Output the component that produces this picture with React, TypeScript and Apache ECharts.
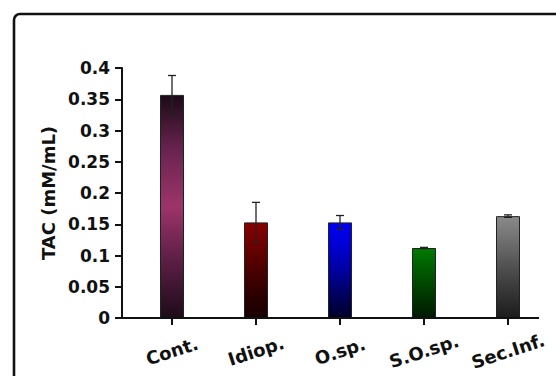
import React, { useEffect, useRef } from "react";
import * as echarts from "echarts";

const categories = ["Cont.", "Idiop.", "O.sp.", "S.O.sp.", "Sec.Inf."];
const means = [0.357, 0.153, 0.153, 0.112, 0.163];
const errors = [0.031, 0.032, 0.011, 0.001, 0.002];
const yTicks = { min: 0, max: 0.4, interval: 0.05 };
const barGradients = [
  ["#1c0a17", "#6a2450", "#9c3469", "#5a1e44", "#1e0b19"],
  ["#8a0000", "#6a0000", "#4a0000", "#2e0000", "#180000"],
  ["#0000f5", "#0000d0", "#0000a0", "#000060", "#00002a"],
  ["#007a00", "#006000", "#004800", "#003000", "#001a00"],
  ["#8a8a8a", "#6e6e6e", "#505050", "#353535", "#1c1c1c"],
];

const FONT = "DejaVu Sans";

export default function App() {
  const ref = useRef<HTMLDivElement>(null);
  useEffect(() => {
    if (!ref.current) return;
    const chart = echarts.init(ref.current, null, { renderer: "svg" });
    const grad = (cols: string[]) =>
      new echarts.graphic.LinearGradient(
        0,
        0,
        0,
        1,
        cols.map((c, i) => ({ offset: i / (cols.length - 1), color: c }))
      );
    chart.setOption({
      animation: false,
      backgroundColor: "#ffffff",
      graphic: [
        {
          type: "rect",
          shape: { x: 14, y: 14, width: 620, height: 420, r: 6 },
          style: { fill: "none", stroke: "#111", lineWidth: 2.6 },
          z: 0,
        },
        {
          type: "line",
          shape: { x1: 121, y1: 318, x2: 539, y2: 318 },
          style: { stroke: "#111", lineWidth: 2 },
          z: 10,
        },
      ],
      grid: { left: 130, right: 6, top: 68, bottom: 58 },
      xAxis: {
        type: "category",
        data: categories,
        axisLine: { show: false },
        axisTick: {
          show: true,
          alignWithLabel: true,
          length: 7,
          lineStyle: { color: "#111", width: 2 },
        },
        axisLabel: {
          rotate: 18,
          align: "center",
          verticalAlign: "middle",
          margin: 33,
          color: "#111",
          fontFamily: FONT,
          fontWeight: "bold",
          fontSize: 18,
        },
      },
      yAxis: {
        type: "value",
        min: yTicks.min,
        max: yTicks.max,
        interval: yTicks.interval,
        offset: 8,
        name: "TAC (mM/mL)",
        nameLocation: "middle",
        nameGap: 63,
        nameTextStyle: {
          color: "#111",
          fontFamily: FONT,
          fontWeight: "bold",
          fontSize: 18,
        },
        axisLine: { show: true, lineStyle: { color: "#111", width: 2 } },
        axisTick: { show: true, length: 7, lineStyle: { color: "#111", width: 2 } },
        axisLabel: {
          margin: 12,
          color: "#111",
          fontFamily: FONT,
          fontWeight: "bold",
          fontSize: 17,
        },
        splitLine: { show: false },
      },
      series: [
        {
          type: "bar",
          barWidth: 24,
          data: means.map((v, i) => ({
            value: v,
            itemStyle: {
              color: grad(barGradients[i]),
              borderColor: "#222",
              borderWidth: 1,
            },
          })),
          z: 2,
        },
        {
          type: "custom",
          z: 5,
          data: means.map((v, i) => [i, v - errors[i], v + errors[i]]),
          renderItem: (params: any, api: any) => {
            const x = api.value(0);
            const lo = api.coord([x, api.value(1)]);
            const hi = api.coord([x, api.value(2)]);
            const cap = 4;
            const style = { stroke: "#222", lineWidth: 1.3 };
            return {
              type: "group",
              children: [
                { type: "line", shape: { x1: hi[0], y1: hi[1], x2: lo[0], y2: lo[1] }, style },
                { type: "line", shape: { x1: hi[0] - cap, y1: hi[1], x2: hi[0] + cap, y2: hi[1] }, style },
                { type: "line", shape: { x1: lo[0] - cap, y1: lo[1], x2: lo[0] + cap, y2: lo[1] }, style },
              ],
            };
          },
        },
      ],
    });
    return () => chart.dispose();
  }, []);
  return (
    <div
      ref={ref}
      style={{ position: "fixed", left: 0, top: 0, width: 556, height: 376, background: "#fff" }}
    />
  );
}
